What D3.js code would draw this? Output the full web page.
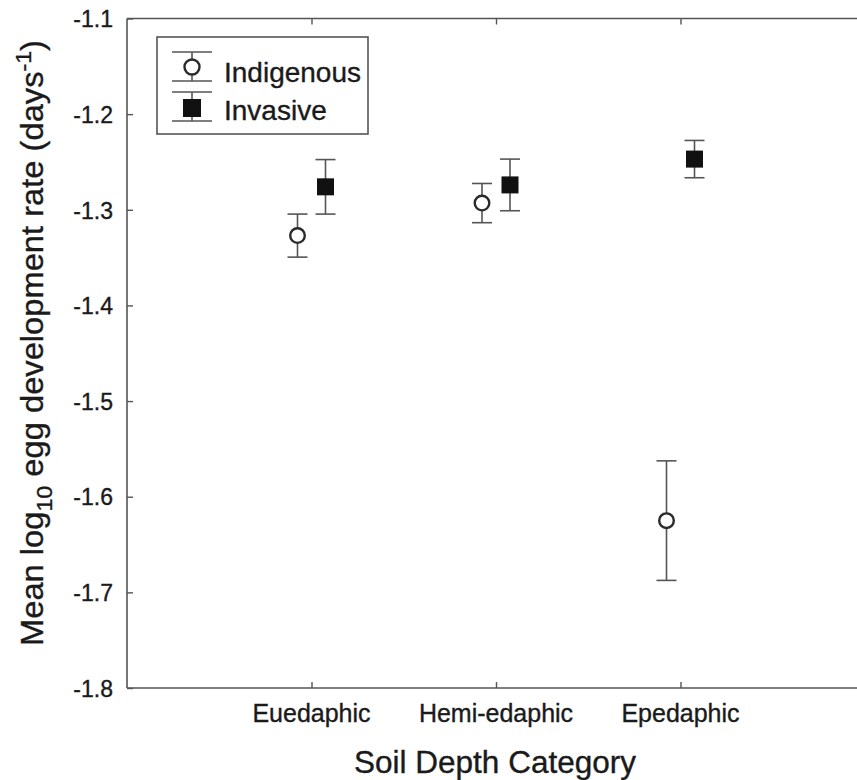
<!DOCTYPE html>
<html>
<head>
<meta charset="utf-8">
<script src="https://cdn.jsdelivr.net/npm/d3@7"></script>
<style>
  body { margin: 0; background: #fff; }
  svg { display: block; font-family: "Liberation Sans", Arial, Helvetica, sans-serif; }
  text { stroke: #1a1a1a; stroke-width: 0.35px; }
</style>
</head>
<body>
<svg id="chart" width="857" height="780"></svg>
<script>
// data
const categories = ["Euedaphic", "Hemi-edaphic", "Epedaphic"];
const indigenousMean = [-1.327, -1.293, -1.625];
const indigenousErr = [0.0225, 0.0205, 0.0625];
const invasiveMean = [-1.276, -1.274, -1.247];
const invasiveErr = [0.0285, 0.027, 0.0195];
const yTicks = [-1.1, -1.2, -1.3, -1.4, -1.5, -1.6, -1.7, -1.8];

const svg = d3.select("#chart"),
    width = +svg.attr("width"),
    height = +svg.attr("height");

const axisColor = "#555";
const textColor = "#1a1a1a";

const x = d3.scaleLinear().domain([0, 4]).range([127, 865]);
const y = d3.scaleLinear().domain([-1.8, -1.1]).range([688, 18.5]);
const dodge = 14; // px shift of the two groups around the category tick

// axes frame (left, top, bottom; no right line)
svg.append("line").attr("x1", x(0)).attr("x2", x(0)).attr("y1", y(-1.1)).attr("y2", y(-1.8))
    .attr("stroke", axisColor).attr("stroke-width", 1.6);
svg.append("line").attr("x1", x(0)).attr("x2", width).attr("y1", y(-1.1)).attr("y2", y(-1.1))
    .attr("stroke", axisColor).attr("stroke-width", 1.6);
svg.append("line").attr("x1", x(0)).attr("x2", width).attr("y1", y(-1.8)).attr("y2", y(-1.8))
    .attr("stroke", axisColor).attr("stroke-width", 1.6);

// Y axis (ticks inward)
const yAxis = svg.append("g")
    .attr("transform", `translate(${x(0)},0)`)
    .call(d3.axisRight(y).tickValues(yTicks).tickSize(6).tickFormat(d3.format(".1f")));
yAxis.select(".domain").remove();
yAxis.selectAll("line").attr("stroke", axisColor).attr("stroke-width", 1.4);
yAxis.selectAll("text")
    .attr("x", -14).attr("dy", "0.36em")
    .attr("text-anchor", "end")
    .style("font-size", "23px").attr("fill", textColor)
    .text(d => d3.format(".1f")(d).replace("−", "-"));

// X axis ticks (bottom and top, pointing inward) and labels
const catIdx = categories.map((c, i) => i + 1);
const xAxis = svg.append("g")
    .attr("transform", `translate(0,${y(-1.8)})`)
    .call(d3.axisTop(x).tickValues(catIdx).tickSize(6).tickFormat(""));
xAxis.select(".domain").remove();
xAxis.selectAll("line").attr("stroke", axisColor).attr("stroke-width", 1.4);

const xTop = svg.append("g")
    .attr("transform", `translate(0,${y(-1.1)})`)
    .call(d3.axisBottom(x).tickValues(catIdx).tickSize(6).tickFormat(""));
xTop.select(".domain").remove();
xTop.selectAll("line").attr("stroke", axisColor).attr("stroke-width", 1.4);

svg.append("g").selectAll("text")
    .data(categories)
    .enter().append("text")
    .attr("x", (d, i) => x(i + 1))
    .attr("y", y(-1.8) + 34)
    .attr("text-anchor", "middle")
    .style("font-size", "25px")
    .attr("fill", textColor)
    .text(d => d);

// Axis titles
svg.append("text")
    .attr("x", 495)
    .attr("y", 773)
    .attr("text-anchor", "middle")
    .attr("textLength", 282)
    .attr("lengthAdjust", "spacingAndGlyphs")
    .style("font-size", "31px")
    .attr("fill", textColor)
    .text("Soil Depth Category");

const yTitle = svg.append("text")
    .attr("transform", "translate(43,343) rotate(-90)")
    .attr("text-anchor", "middle")
    .attr("textLength", 606)
    .attr("lengthAdjust", "spacingAndGlyphs")
    .style("font-size", "31px")
    .attr("fill", textColor);
yTitle.append("tspan").text("Mean log");
yTitle.append("tspan").attr("dy", 9).style("font-size", "22px").text("10");
yTitle.append("tspan").attr("dy", -9).text(" egg development rate  (days");
yTitle.append("tspan").attr("dy", -12).style("font-size", "22px").text("-1");
yTitle.append("tspan").attr("dy", 12).text(")");

// data marks
const indigenous = categories.map((c, i) => ({ i: i + 1, mean: indigenousMean[i], err: indigenousErr[i] }));
const invasive = categories.map((c, i) => ({ i: i + 1, mean: invasiveMean[i], err: invasiveErr[i] }));

function errorBars(data, shift) {
    const g = svg.append("g").attr("stroke", axisColor).attr("stroke-width", 1.6);
    g.selectAll(".stem").data(data).enter().append("line")
        .attr("x1", d => x(d.i) + shift).attr("x2", d => x(d.i) + shift)
        .attr("y1", d => y(d.mean + d.err)).attr("y2", d => y(d.mean - d.err));
    g.selectAll(".capHi").data(data).enter().append("line")
        .attr("x1", d => x(d.i) + shift - 10).attr("x2", d => x(d.i) + shift + 10)
        .attr("y1", d => y(d.mean + d.err)).attr("y2", d => y(d.mean + d.err));
    g.selectAll(".capLo").data(data).enter().append("line")
        .attr("x1", d => x(d.i) + shift - 10).attr("x2", d => x(d.i) + shift + 10)
        .attr("y1", d => y(d.mean - d.err)).attr("y2", d => y(d.mean - d.err));
}

errorBars(indigenous, -dodge);
errorBars(invasive, dodge);

svg.append("g").selectAll("circle")
    .data(indigenous)
    .enter().append("circle")
    .attr("cx", d => x(d.i) - dodge)
    .attr("cy", d => y(d.mean))
    .attr("r", 7.3)
    .attr("fill", "#fff")
    .attr("stroke", "#2a2a2a")
    .attr("stroke-width", 2.4);

svg.append("g").selectAll("rect")
    .data(invasive)
    .enter().append("rect")
    .attr("x", d => x(d.i) + dodge - 8.5)
    .attr("y", d => y(d.mean) - 8.5)
    .attr("width", 17)
    .attr("height", 17)
    .attr("fill", "#111");

// legend
const legend = svg.append("g");
legend.append("rect")
    .attr("x", 157).attr("y", 37).attr("width", 211).attr("height", 97)
    .attr("fill", "#fff").attr("stroke", axisColor).attr("stroke-width", 1.6);

const legendItems = [
    { label: "Indigenous", cy: 67, lo: 52, hi: 81, base: 82 },
    { label: "Invasive", cy: 108, lo: 92, hi: 121, base: 120 }
];
legendItems.forEach((it, k) => {
    const lg = legend.append("g").attr("stroke", axisColor).attr("stroke-width", 1.6);
    lg.append("line").attr("x1", 192).attr("x2", 192).attr("y1", it.lo).attr("y2", it.hi);
    lg.append("line").attr("x1", 172).attr("x2", 212).attr("y1", it.lo).attr("y2", it.lo);
    lg.append("line").attr("x1", 172).attr("x2", 212).attr("y1", it.hi).attr("y2", it.hi);
    if (k === 0) {
        legend.append("circle").attr("cx", 192).attr("cy", it.cy).attr("r", 7.5)
            .attr("fill", "#fff").attr("stroke", "#2a2a2a").attr("stroke-width", 2.4);
    } else {
        legend.append("rect").attr("x", 192 - 9).attr("y", it.cy - 9)
            .attr("width", 18).attr("height", 18).attr("fill", "#111");
    }
    legend.append("text")
        .attr("x", 224).attr("y", it.base)
        .style("font-size", "28px")
        .attr("fill", textColor)
        .text(it.label);
});
</script>
</body>
</html>
